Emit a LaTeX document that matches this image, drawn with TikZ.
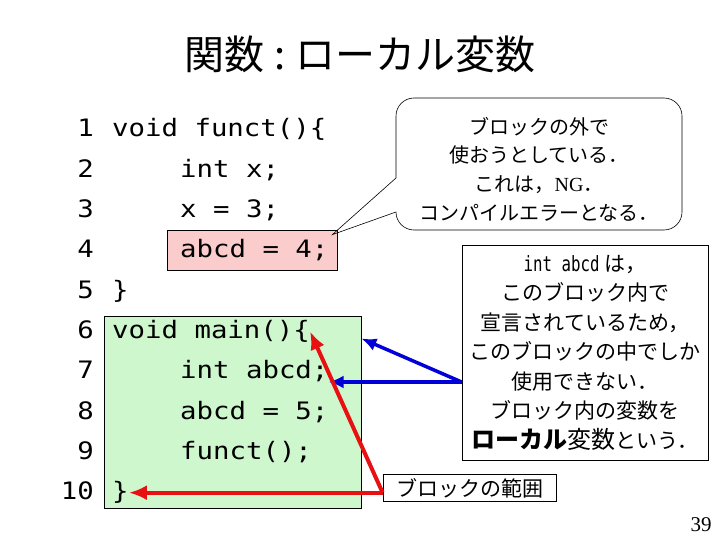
\documentclass[tikz,border=0pt]{standalone}
\usepackage{fontspec}
\setmainfont{Liberation Serif}
\setmonofont[FakeStretch=1.14]{DejaVu Sans Mono}
\newfontfamily\narrowmono[FakeStretch=0.75]{DejaVu Sans Mono}
\newfontfamily\jp{Noto Sans CJK JP}
\usetikzlibrary{arrows.meta,positioning}
\definecolor{hlpink}{RGB}{250,204,204}
\definecolor{blkgreen}{RGB}{206,247,206}
\definecolor{arrred}{RGB}{232,16,16}
\definecolor{arrblue}{RGB}{0,0,215}
\tikzset{
  title/.style={font=\jp\fontsize{40}{45}\selectfont},
  lnum/.style={anchor=base east, inner sep=0pt, font=\fontsize{24}{30}\selectfont\ttfamily},
  code/.style={anchor=base west, inner sep=0pt, text height=20pt, text depth=6pt,
    font=\fontsize{24}{30}\selectfont\ttfamily},
  hlbox/.style={draw, line width=0.8pt, inner sep=0pt},
  note/.style={draw, line width=0.8pt, align=center, inner sep=0pt,
    font=\jp\fontsize{21}{29.5}\selectfont},
  bubble/.style={draw, line width=0.6pt},
  bluearr/.style={arrblue, line width=3.5pt, -{Latex[length=15pt,width=13pt]}},
  redarr/.style={arrred, line width=4pt, -{Latex[length=18pt,width=15pt]}}
}
\begin{document}
\begin{tikzpicture}[x=1pt, y=-1pt]
\useasboundingbox (0,0) rectangle (720,540);

\node[title] (title) at (360,54) {関数\hspace{0.25em}:\hspace{0.25em}ローカル変数};

% code
\node[hlbox, fill=hlpink, minimum width=170, minimum height=40] (hl4) at (252,250) {};
\node[hlbox, fill=blkgreen, minimum width=257, minimum height=192] (mainblk) at (232.5,412) {};

\foreach \i in {1,...,10}
  \node[lnum] (n\i) at (94,{137+40.3*(\i-1)}) {\i};

\node[code] (c1) at (112,137.0) {void funct()\{};
\node[code] (c2) at (180,177.3) {int x;};
\node[code] (c3) at (180,217.6) {x = 3;};
\node[code] (c4) at (180,257.9) {abcd = 4;};
\node[code] (c5) at (112,298.2) {\}};
\node[code] (c6) at (112,338.5) {void main()\{};
\node[code] (c7) at (180,378.8) {int abcd;};
\node[code] (c8) at (180,419.1) {abcd = 5;};
\node[code] (c9) at (180,459.4) {funct();};
\node[code] (c10) at (112,499.7) {\}};

%%%%%%%%%%%%%%%%%%%%%%%%%%%%%%%%%%%%%%%%

\coordinate (tip) at ([xshift=-5pt,yshift=-5pt]hl4.north east);
\draw[bubble]
     (396,178)
  -- (396,116) arc[start angle=180, end angle=270, radius=18]
  -- (664,98)  arc[start angle=270, end angle=360, radius=18]
  -- (682,212) arc[start angle=0, end angle=90, radius=18]
  -- (414,230) arc[start angle=90, end angle=180, radius=18]
  -- (tip)
  -- cycle;
\node[align=center, font=\jp\fontsize{20}{28.7}\selectfont] (outside) at (539,169)
  {ブロックの外で\\使おうとしている．\\これは，\textrm{NG}．\\コンパイルエラーとなる．};

\node[note, minimum width=246, minimum height=215] (info) at (585,352.5)
  {{\narrowmono\fontsize{21}{29.5}\selectfont int abcd} は，\\
   このブロック内で\\
   宣言されているため，\\
   このブロックの中でしか\\
   使用できない．\\
   ブロック内の変数を\\
   {\fontsize{24}{29.5}\selectfont\bfseries ローカル}{\fontsize{24}{29.5}\selectfont 変数}という．};

\node[note, minimum width=173, minimum height=27] (scope) at (469.5,488) {ブロックの範囲};

\node[font=\fontsize{21}{24}\selectfont] (page) at (701,525) {39};

\coordinate (bsrc) at ([yshift=-29.5pt]info.west);
\coordinate (rsrc) at (scope.west |- c10.east);
\draw[bluearr] (bsrc) -- (mainblk.east |- c6.base);
\draw[bluearr] (bsrc) -- (c7.east |- bsrc);
\draw[redarr] (rsrc) -- (c6.east);
\draw[redarr] (rsrc) -- (c10.east);

\end{tikzpicture}
\end{document}
